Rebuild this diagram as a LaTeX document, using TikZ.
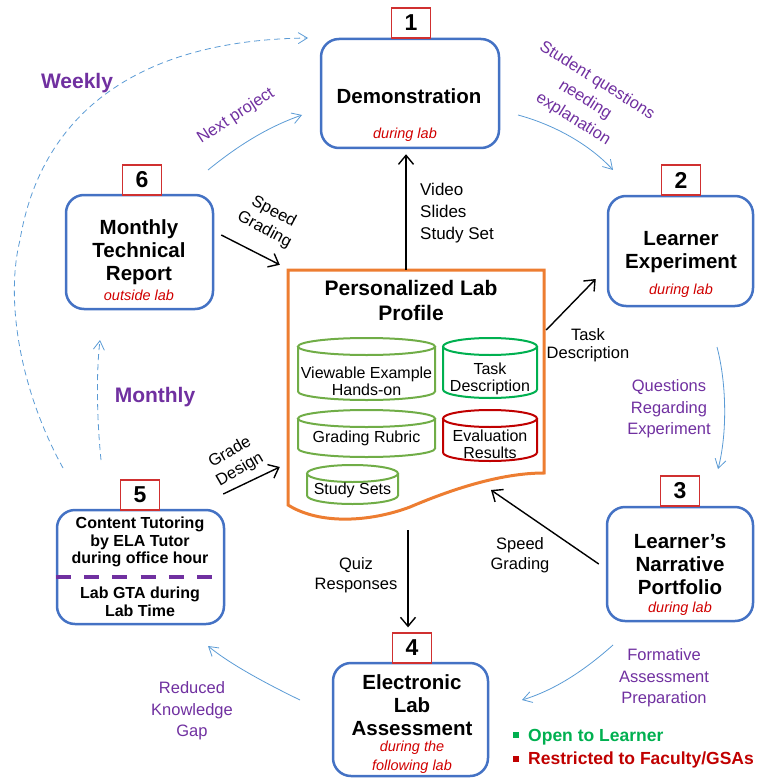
\documentclass[tikz,border=0pt]{standalone}
\usepackage{fontspec}
\setmainfont{Liberation Sans}
\usetikzlibrary{arrows.meta}

\definecolor{boxblue}{HTML}{4472C4}
\definecolor{numred}{HTML}{D03030}
\definecolor{subred}{HTML}{D00000}
\definecolor{ppl}{HTML}{7030A0}
\definecolor{hintblue}{HTML}{5B9BD5}
\definecolor{docorange}{HTML}{ED7D31}
\definecolor{lgreen}{HTML}{70AD47}
\definecolor{dgreen}{HTML}{00B050}
\definecolor{dbred}{HTML}{C00000}

\tikzset{
  stage/.style={draw=boxblue, line width=2.5pt, rounded corners=18pt, inner sep=0pt},
  numbox/.style={draw=numred, line width=1.3pt, fill=white, minimum width=39pt, minimum height=30pt,
                 inner sep=0pt, font=\bfseries\fontsize{23}{23}\selectfont},
  ttl/.style={inner sep=0pt, align=center, font=\bfseries\fontsize{20.5}{23}\selectfont},
  when/.style={inner sep=0pt, align=center, text=subred, font=\itshape\fontsize{14.5}{18.5}\selectfont},
  tut/.style={inner sep=0pt, align=center, font=\bfseries\fontsize{16}{17.5}\selectfont},
  lbl/.style={inner sep=0pt, align=center, font=\fontsize{16.5}{21.5}\selectfont},
  plbl/.style={lbl, text=ppl},
  period/.style={inner sep=0pt, text=ppl, font=\bfseries\fontsize{21}{24}\selectfont},
  flow/.style={draw=black, line width=1.4pt, -{Straight Barb[length=9pt,width=15pt]}},
  hint/.style={draw=hintblue, line width=0.8pt, -{Straight Barb[length=9pt,width=11pt]}},
  freq/.style={hint, dash pattern=on 6pt off 4pt},
  dbline/.style={line width=2pt},
  dbtext/.style={inner sep=0pt, align=center, font=\fontsize{16}{17}\selectfont},
  legend/.style={anchor=west, inner sep=0pt, font=\bfseries\fontsize{17.5}{20}\selectfont},
}

% database cylinder: name, colour, x1, y1, x2, y2, text centre y, text
\newcommand\labdb[8]{%
  \pgfmathsetmacro\dbcx{(#3+#5)/2}%
  \pgfmathsetmacro\dbrx{(#5-#3)/2}%
  \draw[dbline, draw=#2] (#3,#4+8.5) -- (#3,#6-8.5)
     arc[start angle=180, end angle=0, x radius=\dbrx, y radius=8.5] -- (#5,#4+8.5);
  \draw[dbline, draw=#2] (\dbcx,#4+8.5) ellipse[x radius=\dbrx, y radius=8.5];
  \node[dbtext] (#1) at (\dbcx,#7) {#8};
}

\begin{document}
\begin{tikzpicture}[x=1pt,y=-1pt]
\useasboundingbox (0,0) rectangle (756,778);

% ---------- stages ----------
\node[stage, minimum width=178pt, minimum height=109pt] (b1) at (410,93.5) {};
\node[stage, minimum width=145pt, minimum height=110pt] (b2) at (680.5,251) {};
\node[stage, minimum width=146pt, minimum height=114pt] (b3) at (680,564) {};
\node[stage, minimum width=155pt, minimum height=113pt] (b4) at (410.5,719.5) {};
\node[stage, minimum width=167pt, minimum height=114pt] (b5) at (140.5,567) {};
\node[stage, minimum width=147pt, minimum height=114pt] (b6) at (139.5,252) {};

\node[numbox] (n1) at (411,23) {1};
\node[numbox] (n2) at (681,180) {2};
\node[numbox] (n3) at (680,491) {3};
\node[numbox] (n4) at (412,648) {4};
\node[numbox] (n5) at (140,495) {5};
\node[numbox] (n6) at (142,180) {6};

\node[ttl] (t1) at (409,96) {Demonstration};
\node[when] (w1) at (405,135) {during lab};

\node[ttl] (t2) at (681,252) {Learner\\Experiment};
\node[when] (w2) at (681,291) {during lab};

\node[ttl] (t3) at (680,565) {Learner’s\\Narrative\\Portfolio};
\node[when] (w3) at (680,609) {during lab};

\node[ttl] (t4) at (412,705) {Electronic\\Lab\\Assessment};
\node[when] (w4) at (412,757) {during the\\following lab};

\node[tut] (t5a) at (140,542) {Content Tutoring\\by ELA Tutor\\during office hour};
\draw[ppl, line width=3.4pt, dash pattern=on 15pt off 13.3pt] (b5.west |- 0,577) -- (216,577);
\node[tut] (t5b) at (140,602) {Lab GTA during\\Lab Time};

\node[ttl] (t6) at (139,252) {Monthly\\Technical\\Report};
\node[when] (w6) at (139,295) {outside lab};

% ---------- personalized lab profile ----------
\node[minimum width=256pt, minimum height=240pt, inner sep=0pt] (doc) at (416,390) {};
\draw[docorange, line width=3pt, line join=miter]
  (288,505) -- (288,270) -- (544,270) -- (544,473)
  .. controls (500,473) and (450,490) .. (410,507)
  .. controls (370,522) and (320,525) .. (288,505) -- cycle;
\node[ttl, font=\bfseries\fontsize{21}{25}\selectfont] (dtitle) at (411,300) {Personalized Lab\\Profile};

\labdb{dbview}{lgreen}{298}{338}{435}{400}{381}{Viewable Example\\Hands-on}
\labdb{dbtask}{dgreen}{443}{338}{537}{398}{379}{Task\\Description}
\labdb{dbrubric}{lgreen}{298}{410}{435}{457}{438}{Grading Rubric}
\labdb{dbeval}{dbred}{443}{410}{537}{461}{444}{Evaluation\\Results}
\labdb{dbstudy}{lgreen}{307}{465}{398}{504}{490}{Study Sets}

% ---------- black flows ----------
\draw[flow] ([xshift=-10pt]doc.north) -- ([xshift=-4pt,yshift=-5pt]b1.south);
\draw[flow] ([xshift=2pt,yshift=60pt]doc.east) -- ([xshift=-11pt,yshift=-28pt]b2.west);
\draw[flow] ([xshift=-7pt]b3.west) -- ([xshift=75pt,yshift=-100pt]doc.center);
\draw[flow] ([xshift=-8pt,yshift=-140pt]doc.center) -- ([xshift=-4pt,yshift=5pt]n4.north);
\draw[flow] ([xshift=7pt,yshift=17pt]b6.east) -- ([xshift=-8pt,yshift=5pt]doc.north west);
\draw[flow] ([xshift=-2pt,yshift=73pt]b5.east) -- ([xshift=-8pt,yshift=-77pt]doc.west);

\node[lbl, anchor=west, align=left, font=\fontsize{17}{22}\selectfont] (vss) at (420,213) {Video\\Slides\\Study Set};
\node[lbl, font=\fontsize{16.5}{18}\selectfont] (ltask) at (588,345) {Task\\Description};
\node[lbl, font=\fontsize{16.5}{19.5}\selectfont] (lsg3) at (520,555) {Speed\\Grading};
\node[lbl, font=\fontsize{16.5}{19.5}\selectfont] (lquiz) at (356,575) {Quiz\\Responses};
\node[lbl, rotate=-28, font=\fontsize{16.5}{20}\selectfont] (lsg6) at (269,221) {Speed\\Grading};
\node[lbl, rotate=30, font=\fontsize{16.5}{20}\selectfont] (lgd) at (235,461) {Grade\\Design};

% ---------- blue cycle hints ----------
\coordinate (h6s) at (208,170);  \coordinate (h6e) at (302,115);
\coordinate (h1s) at (518,115);  \coordinate (h1e) at (613,170);
\coordinate (h2s) at (717,347);  \coordinate (h2e) at (718,469);
\coordinate (h3s) at (613,645);  \coordinate (h3e) at (522,700);
\coordinate (h4s) at (300,700);  \coordinate (h4e) at (208,646);
\coordinate (m5s) at (101,460);  \coordinate (m5e) at (100,340);
\coordinate (wks) at (63,468);   \coordinate (wke) at (308,38);

\draw[hint] (h6s) .. controls (235,148) and (265,128) .. (h6e);
\draw[hint] (h1s) .. controls (555,125) and (590,145) .. (h1e);
\draw[hint] (h2s) .. controls (727,385) and (727,435) .. (h2e);
\draw[hint] (h3s) .. controls (585,670) and (555,690) .. (h3e);
\draw[hint] (h4s) .. controls (265,683) and (230,664) .. (h4e);
\draw[freq] (m5s) .. controls (97,420) and (96,375) .. (m5e);
\draw[freq] (wks) .. controls (20,390) and (5,300) .. (20,240)
                  .. controls (40,120) and (130,40) .. (wke);

\node[plbl, rotate=33] (lnext) at (236,116) {Next project};
\node[plbl, rotate=-32, font=\fontsize{16.5}{22.5}\selectfont] (lstud) at (585,100) {Student questions\\needing\\explanation};
\node[plbl] (lqre) at (669,409) {Questions\\Regarding\\Experiment};
\node[plbl] (lfap) at (664,678) {Formative\\Assessment\\Preparation};
\node[plbl] (lrkg) at (192,711) {Reduced\\Knowledge\\Gap};
\node[period] (lweek) at (77,83) {Weekly};
\node[period] (lmonth) at (155,397) {Monthly};

% ---------- legend ----------
\node[legend, text=dgreen] (legopen) at (513,737) {\raisebox{3pt}{\rule{6pt}{6pt}}\hspace{9pt}Open to Learner};
\node[legend, text=dbred] (legrestr) at (513,760) {\raisebox{3pt}{\rule{6pt}{6pt}}\hspace{9pt}Restricted to Faculty/GSAs};
\end{tikzpicture}
\end{document}
